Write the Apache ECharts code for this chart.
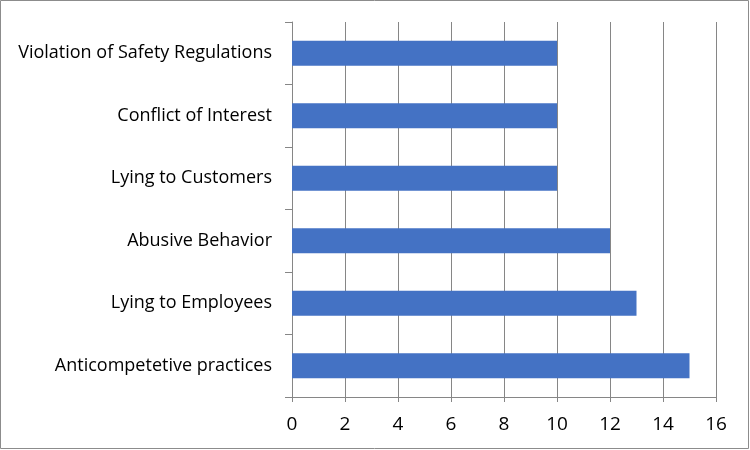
<!DOCTYPE html>
<html><head><meta charset="utf-8">
<script src="https://cdn.jsdelivr.net/npm/echarts@6/dist/echarts.min.js"></script>
<style>html,body{margin:0;padding:0;background:#fff}#c{width:750px;height:450px}</style>
</head><body><div id="c"></div>
<script>
const categories = ["Anticompetetive practices","Lying to Employees","Abusive Behavior","Lying to Customers","Conflict of Interest","Violation of Safety Regulations"];
const values = [15,13,12,10,10,10];
const xTicks = [0,2,4,6,8,10,12,14,16];

const chart = echarts.init(document.getElementById('c'));
chart.setOption({
  animation:false,
  graphic:[{type:'rect',shape:{x:0.5,y:0.5,width:748,height:448},style:{fill:'none',stroke:'#8c8c8c',lineWidth:1}}],
  grid:{left:292,right:34,top:22,bottom:53,containLabel:false},
  xAxis:{type:'value',min:0,max:16,interval:2,
    axisLine:{show:true,lineStyle:{color:'#868686'}},
    axisTick:{show:true,length:5,lineStyle:{color:'#868686'}},
    splitLine:{show:true,lineStyle:{color:'#868686'}},
    axisLabel:{color:'#000',fontFamily:'Open Sans',fontSize:19,margin:18,formatter:v=>xTicks.includes(v)?String(v):''}},
  yAxis:{type:'category',data:categories,
    axisLine:{show:true,lineStyle:{color:'#868686'}},
    axisTick:{show:true,length:7,lineStyle:{color:'#868686'}},
    axisLabel:{color:'#000',fontFamily:'Open Sans',fontSize:18,margin:20,padding:[3,0,0,0]}},
  series:[{type:'bar',data:values,barCategoryGap:'60%',itemStyle:{color:'#4472C4'}}]
});
</script></body></html>
